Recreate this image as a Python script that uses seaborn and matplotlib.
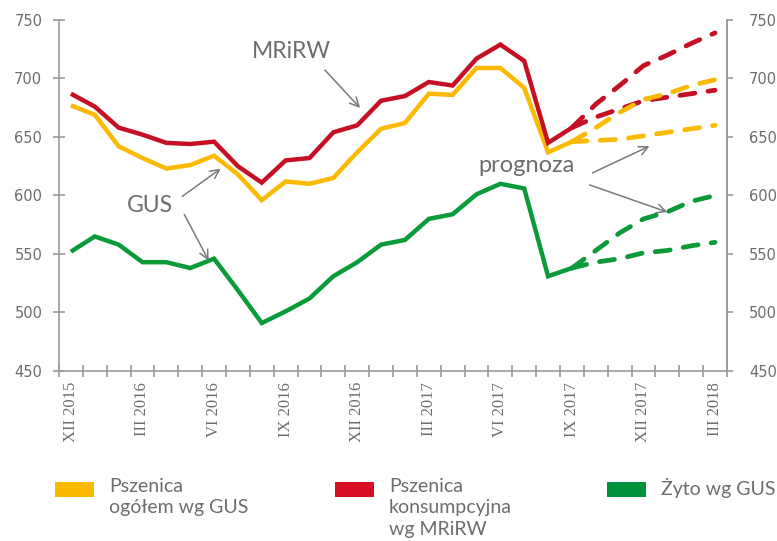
import numpy as np
import pandas as pd
import matplotlib
matplotlib.use("Agg")
import matplotlib.pyplot as plt
import seaborn as sns
from matplotlib.patches import Rectangle

# ---- data ----
months = ["XII 2015", "I 2016", "II 2016", "III 2016", "IV 2016", "V 2016", "VI 2016",
          "VII 2016", "VIII 2016", "IX 2016", "X 2016", "XI 2016", "XII 2016",
          "I 2017", "II 2017", "III 2017", "IV 2017", "V 2017", "VI 2017",
          "VII 2017", "VIII 2017", "IX 2017", "X 2017", "XI 2017", "XII 2017",
          "I 2018", "II 2018", "III 2018"]
tick_labels = ["XII 2015", "III 2016", "VI 2016", "IX 2016", "XII 2016",
               "III 2017", "VI 2017", "IX 2017", "XII 2017", "III 2018"]

wheat_gus = [677, 669, 642, 632, 623, 626, 634, 618, 596, 612, 610, 615, 637,
             657, 662, 687, 686, 709, 709, 692, 637, 646]
wheat_mrirw = [687, 676, 658, 652, 645, 644, 646, 625, 611, 630, 632, 654, 660,
               681, 685, 697, 694, 717, 729, 715, 645, 658]
rye_gus = [552, 565, 558, 543, 543, 538, 546, 519, 491, 501, 512, 531, 543,
           558, 562, 580, 584, 601, 610, 606, 531, 538]

# forecasts IX 2017 .. III 2018
mrirw_hi = [658, 678, 694, 711, 720, 730, 739]
mrirw_lo = [658, 667, 674, 681, 684, 687, 690]
gus_hi = [646, 658, 671, 682, 687, 694, 699]
gus_lo = [646, 647, 648, 651, 654, 657, 660]
rye_hi = [538, 553, 568, 580, 586, 595, 600]
rye_lo = [538, 543, 546, 551, 553, 557, 560]

YELLOW = "#FBB900"
RED = "#C50F22"
GREEN = "#0A9A37"
GREY = "#6d6d6d"
AXC = "#9a9a9a"

sns.set_style("white")
plt.rcParams["font.family"] = ["DejaVu Sans"]

fig = plt.figure(figsize=(7.77, 5.41), dpi=100)
ax = fig.add_axes([59 / 777, 1 - 371 / 541, (727 - 59) / 777, (371 - 20) / 541])

n_act = len(wheat_gus)
x_act = np.arange(n_act)
x_fc = np.arange(n_act - 1, len(months))

lw = 3.2
for vals, col in [(wheat_gus, YELLOW), (wheat_mrirw, RED), (rye_gus, GREEN)]:
    df = pd.DataFrame({"x": x_act, "y": vals})
    sns.lineplot(data=df, x="x", y="y", color=col, lw=lw, ax=ax,
                 solid_joinstyle="miter", solid_capstyle="butt")

for vals, col in [(mrirw_hi, RED), (mrirw_lo, RED), (gus_hi, YELLOW), (gus_lo, YELLOW),
                  (rye_hi, GREEN), (rye_lo, GREEN)]:
    df = pd.DataFrame({"x": x_fc, "y": vals})
    sns.lineplot(data=df, x="x", y="y", color=col, lw=3.4, ax=ax)
    line = ax.lines[-1]
    line.set_dashes((3.2, 2.8))
    line.set_dash_capstyle("round")

ax.set_xlim(-0.5, len(months) - 0.5)
ax.set_ylim(450, 750)
ax.set_xlabel("")
ax.set_ylabel("")

# spines
ax.spines["top"].set_visible(False)
for s in ["left", "right", "bottom"]:
    ax.spines[s].set_visible(True)
    ax.spines[s].set_color(AXC)
    ax.spines[s].set_linewidth(1.2)

# y ticks both sides
yt = np.arange(450, 751, 50)
ax.set_yticks(yt)
ax.tick_params(axis="y", which="major", direction="inout", length=8, width=1.2,
               color=AXC, labelsize=10.5, labelcolor=GREY, pad=8,
               left=True, right=False)
ax2 = ax.twinx()
ax2.set_ylim(450, 750)
ax2.set_yticks(yt)
for s in ["top", "left", "bottom"]:
    ax2.spines[s].set_visible(False)
ax2.spines["right"].set_color(AXC)
ax2.spines["right"].set_linewidth(1.2)
ax2.tick_params(axis="y", direction="out", length=4, width=1.2, color=AXC,
                labelsize=10.5, labelcolor=GREY, pad=12)
ax2.grid(False)
ax.grid(False)

# x ticks: boundaries as minor tick marks, labels at category centres
ax.set_xticks(np.arange(-0.5, len(months) + 0.5, 1.0), minor=True)
label_pos = [months.index(t) for t in tick_labels]
ax.set_xticks(label_pos)
ax.set_xticklabels(tick_labels, rotation=90, family="Liberation Serif",
                   fontsize=12, color=GREY)
ax.tick_params(axis="x", which="major", length=0, pad=8)
ax.tick_params(axis="x", which="minor", direction="inout", length=9, width=1.2,
               color=AXC, bottom=True)

# annotations
tfont = dict(family="Lato", fontsize=16.5, color=GREY)
arr = dict(arrowstyle="->", color="#7a7a7a", lw=1.1, mutation_scale=16)

fig.text(291 / 777, 1 - 52 / 541, "MRiRW", ha="center", va="center", **tfont)
fig.text(150 / 777, 1 - 206 / 541, "GUS", ha="center", va="center", **tfont)
fig.text(527 / 777, 1 - 165 / 541, "prognoza", ha="center", va="center",
         family="Lato", fontsize=17, color=GREY)

for (x0, y0, x1, y1) in [(323, 68, 362, 110), (180, 198, 223, 167), (183, 212, 210, 263),
                         (590, 174, 652, 145), (587, 184, 670, 213)]:
    ax.annotate("", xy=(x1 / 777, 1 - y1 / 541), xycoords="figure fraction",
                xytext=(x0 / 777, 1 - y0 / 541), textcoords="figure fraction",
                arrowprops=arr)

# legend (manual)
legend_items = [("Pszenica\nogółem wg GUS", YELLOW, 55),
                ("Pszenica\nkonsumpcyjna\nwg MRiRW", "#D60F25", 335),
                ("Żyto wg GUS", "#00923A", 607)]
for text, col, x0 in legend_items:
    fig.add_artist(Rectangle((x0 / 777, 1 - 497 / 541), 39 / 777, 15 / 541,
                             transform=fig.transFigure, color=col, lw=0))
    fig.text((x0 + 54) / 777, 1 - 478 / 541, text, ha="left", va="top",
             family="Lato", fontsize=14, color=GREY, linespacing=1.32)

fig.savefig("out.png", dpi=100)
